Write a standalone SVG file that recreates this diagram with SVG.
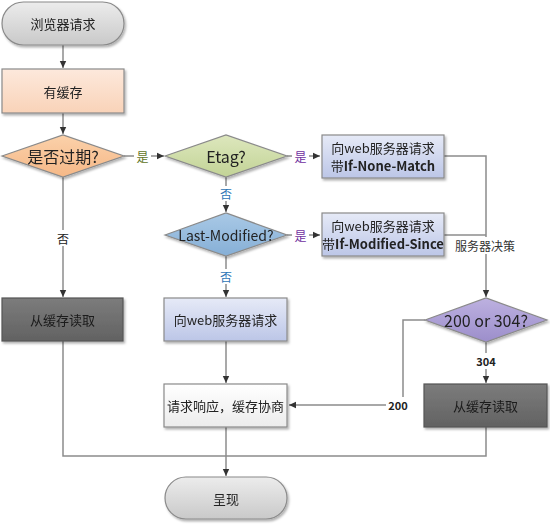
<svg xmlns="http://www.w3.org/2000/svg" width="550" height="524" viewBox="0 0 550 524">
<style>
text{font-family:"Noto Sans CJK SC","Liberation Sans",sans-serif;text-anchor:middle;dominant-baseline:central}
.t{font-size:13px;fill:#222}
.k{font-size:13px;fill:#1a1a1a}
.d{font-size:16px;fill:#222}
.shape{stroke:#8a8a8a;stroke-width:1.2}
.ln{fill:none;stroke:#8c8c8c;stroke-width:1.5}
.lbl{font-size:12px}
.lb{fill:#fff}
.b{font-weight:bold}
</style>
<defs>
<filter id="sh" x="-10%" y="-10%" width="125%" height="135%"><feDropShadow dx="1.5" dy="2" stdDeviation="1.2" flood-color="#000" flood-opacity="0.3"/></filter>
<linearGradient id="gGray" x1="0" y1="0" x2="0" y2="1"><stop offset="0" stop-color="#ececec"/><stop offset="1" stop-color="#c9c9c9"/></linearGradient>
<linearGradient id="gPeach" x1="0" y1="0" x2="0" y2="1"><stop offset="0" stop-color="#fde9dc"/><stop offset="1" stop-color="#f9d3b8"/></linearGradient>
<linearGradient id="gOrange" x1="0" y1="0" x2="0" y2="1"><stop offset="0" stop-color="#fbd1aa"/><stop offset="1" stop-color="#f5b887"/></linearGradient>
<linearGradient id="gGreen" x1="0" y1="0" x2="0" y2="1"><stop offset="0" stop-color="#dde7bd"/><stop offset="1" stop-color="#c2d396"/></linearGradient>
<linearGradient id="gBlueBox" x1="0" y1="0" x2="0" y2="1"><stop offset="0" stop-color="#e6eaf7"/><stop offset="1" stop-color="#bcc6e7"/></linearGradient>
<linearGradient id="gBlue" x1="0" y1="0" x2="0" y2="1"><stop offset="0" stop-color="#a9c9e6"/><stop offset="1" stop-color="#86afd6"/></linearGradient>
<linearGradient id="gPurple" x1="0" y1="0" x2="0" y2="1"><stop offset="0" stop-color="#bdb1e0"/><stop offset="1" stop-color="#9c8ecb"/></linearGradient>
<linearGradient id="gDark" x1="0" y1="0" x2="0" y2="1"><stop offset="0" stop-color="#7c7c7c"/><stop offset="1" stop-color="#626262"/></linearGradient>
<linearGradient id="gWhite" x1="0" y1="0" x2="0" y2="1"><stop offset="0" stop-color="#ffffff"/><stop offset="1" stop-color="#ececec"/></linearGradient>
<marker id="ar" markerWidth="8" markerHeight="8" refX="7" refY="4" orient="auto" markerUnits="userSpaceOnUse"><path d="M0,0.8 L7,4 L0,7.2 Z" fill="#333"/></marker>
</defs>

<g id="connectors">
<path class="ln" d="M63,45 V68" marker-end="url(#ar)"/>
<path class="ln" d="M63,113 V134" marker-end="url(#ar)"/>
<path class="ln" d="M124,156 H164" marker-end="url(#ar)"/>
<path class="ln" d="M63,177 V297" marker-end="url(#ar)"/>
<path class="ln" d="M287,156 H320" marker-end="url(#ar)"/>
<path class="ln" d="M226,177 V212" marker-end="url(#ar)"/>
<path class="ln" d="M287,235 H320" marker-end="url(#ar)"/>
<path class="ln" d="M226,256 V297" marker-end="url(#ar)"/>
<path class="ln" d="M444,156 H486 V297" marker-end="url(#ar)"/>
<path class="ln" d="M444,235 H486"/>
<path class="ln" d="M226,341 V383" marker-end="url(#ar)"/>
<path class="ln" d="M425,320 H403 V405 H289" marker-end="url(#ar)"/>
<path class="ln" d="M486,342 V383" marker-end="url(#ar)"/>
<path class="ln" d="M63,341 V456 H486 V427"/>
<path class="ln" d="M226,427 V476" marker-end="url(#ar)"/>
<rect class="lb" x="134" y="148" width="17" height="16"/>
<text class="lbl" x="142.5" y="156" style="fill:#5f7526">是</text>
<rect class="lb" x="292" y="148" width="17" height="16"/>
<text class="lbl" x="300.5" y="156" style="fill:#7030a0">是</text>
<rect class="lb" x="292" y="227" width="17" height="16"/>
<text class="lbl" x="300.5" y="235" style="fill:#7030a0">是</text>
<rect class="lb" x="218" y="186" width="16" height="15"/>
<text class="lbl" x="226" y="193" style="fill:#2e75b6">否</text>
<rect class="lb" x="218" y="269" width="16" height="15"/>
<text class="lbl" x="226" y="276" style="fill:#2e75b6">否</text>
<rect class="lb" x="55" y="230" width="16" height="16"/>
<text class="lbl" x="63" y="238" style="fill:#222">否</text>
<rect class="lb" x="453" y="237" width="64" height="17"/>
<text class="lbl" x="485" y="245" style="fill:#333">服务器决策</text>
<rect class="lb" x="474" y="353" width="24" height="16"/>
<text class="lbl b" x="486" y="361" style="fill:#222;font-size:11px">304</text>
<rect class="lb" x="386" y="397" width="24" height="16"/>
<text class="lbl b" x="398" y="405" style="fill:#222;font-size:11px">200</text>
</g>

<g id="n-start" filter="url(#sh)">
<rect class="shape" x="2" y="2" width="122" height="43" rx="21.5" fill="url(#gGray)"/>
<text class="t" x="63" y="23.5">浏览器请求</text>
</g>
<g id="n-cache" filter="url(#sh)">
<rect class="shape" x="2" y="69" width="122" height="44" fill="url(#gPeach)"/>
<text class="t" x="63" y="91">有缓存</text>
</g>
<g id="n-expired" filter="url(#sh)">
<polygon class="shape" points="2,156 63,135 124,156 63,177" fill="url(#gOrange)"/>
<text class="d" x="63" y="156">是否过期?</text>
</g>
<g id="n-etag" filter="url(#sh)">
<polygon class="shape" points="165,156 226,135 287,156 226,177" fill="url(#gGreen)"/>
<text class="d" x="226" y="156">Etag?</text>
</g>
<g id="n-inm" filter="url(#sh)">
<rect class="shape" x="322" y="135" width="122" height="43" fill="url(#gBlueBox)"/>
<text class="t" x="383" y="147">向web服务器请求</text>
<text class="t" x="383" y="165">带<tspan class="b">If-None-Match</tspan></text>
</g>
<g id="n-lastmod" filter="url(#sh)">
<polygon class="shape" points="165,235 226,213 287,235 226,256" fill="url(#gBlue)"/>
<text class="t" x="226" y="235" style="font-size:14px">Last-Modified?</text>
</g>
<g id="n-ims" filter="url(#sh)">
<rect class="shape" x="322" y="213" width="122" height="43" fill="url(#gBlueBox)"/>
<text class="t" x="383" y="225">向web服务器请求</text>
<text class="t" x="383" y="243">带<tspan class="b">If-Modified-Since</tspan></text>
</g>
<g id="n-read1" filter="url(#sh)">
<rect class="shape" x="2" y="298" width="121" height="43" fill="url(#gDark)" style="stroke:#555"/>
<text class="k" x="62.5" y="319.5">从缓存读取</text>
</g>
<g id="n-req" filter="url(#sh)">
<rect class="shape" x="164" y="298" width="123" height="43" fill="url(#gBlueBox)"/>
<text class="t" x="225.5" y="319.5">向web服务器请求</text>
</g>
<g id="n-decide" filter="url(#sh)">
<polygon class="shape" points="425,320 486,298 547,320 486,342" fill="url(#gPurple)"/>
<text class="d" x="486" y="320">200 or 304?</text>
</g>
<g id="n-resp" filter="url(#sh)">
<rect class="shape" x="164" y="384" width="123" height="43" fill="url(#gWhite)"/>
<text class="t" x="225.5" y="405.5">请求响应，缓存协商</text>
</g>
<g id="n-read2" filter="url(#sh)">
<rect class="shape" x="424" y="384" width="123" height="43" fill="url(#gDark)" style="stroke:#555"/>
<text class="k" x="485.5" y="405.5">从缓存读取</text>
</g>
<g id="n-show" filter="url(#sh)">
<rect class="shape" x="165" y="477" width="122" height="42" rx="21" fill="url(#gGray)"/>
<text class="t" x="226" y="498">呈现</text>
</g>
</svg>
